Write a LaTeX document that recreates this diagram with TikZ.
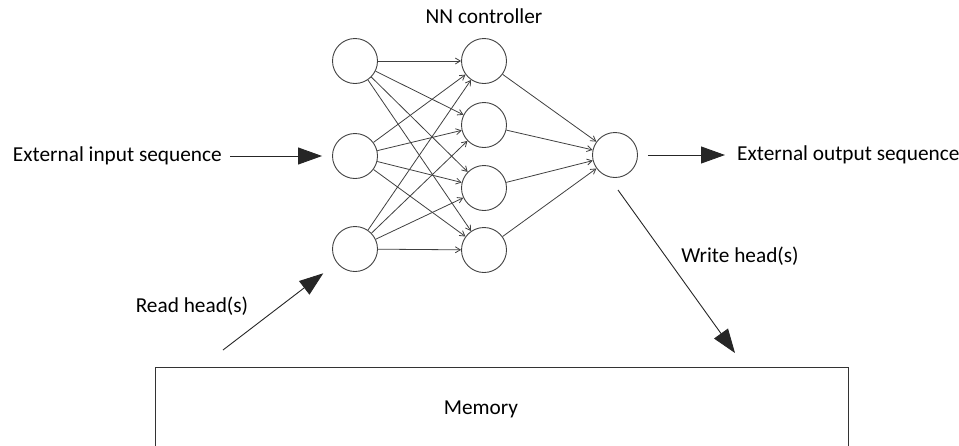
\documentclass[tikz,border=0pt]{standalone}
\usepackage{fontspec}
\setmainfont{Carlito}
\usepackage{tikz}
\usetikzlibrary{arrows.meta, positioning}

\begin{document}
\begin{tikzpicture}[x=1pt, y=-1pt,
    font=\fontsize{21.3}{25}\selectfont,
    neuron/.style={circle, draw=black!75, line width=0.9pt, minimum size=45pt, inner sep=0pt},
    link/.style={draw=black!75, line width=0.8pt, -{Straight Barb[length=5pt,width=6pt]}},
    bigarrow/.style={draw=black!85, line width=0.9pt, -{Triangle[length=24pt,width=17pt]}}]
\useasboundingbox (0,0) rectangle (959,445);
%
% input layer
\node[neuron] (i1) at (355,61) {};
\node[neuron] (i2) at (355,156) {};
\node[neuron] (i3) at (355,249) {};
% hidden layer
\node[neuron] (h1) at (484,61) {};
\node[neuron] (h2) at (484,125) {};
\node[neuron] (h3) at (484,188) {};
\node[neuron] (h4) at (484,250) {};
% output
\node[neuron] (o) at (615,155) {};

\foreach \i in {1,2,3}
  \foreach \h in {1,2,3,4}
    \draw[link] (i\i) -- (h\h);
\foreach \h in {1,2,3,4}
  \draw[link] (h\h) -- (o);
%
\node (ctrl) at (484,16) {NN controller};
\node[anchor=east, inner sep=0pt] (inseq) at (222,156) {External input sequence};
\node[anchor=west, inner sep=0pt] (outseq) at (737,155) {External output sequence};
\node (rlab) at (192,306) {Read head(s)};
\node (wlab) at (740,256) {Write head(s)};

\draw[bigarrow, shorten <=8pt, shorten >=10pt] (inseq) -- (i2);
\draw[bigarrow, shorten <=10pt, shorten >=12pt] (o) -- (outseq);

\coordinate (rstart) at (223,350);
\draw[bigarrow, shorten >=17pt] (rstart) -- (i3);
\coordinate (wstart) at (618,190);
\coordinate (wend) at (735,353);
\draw[bigarrow] (wstart) -- (wend);
%
% memory
\draw[black!80, line width=0.9pt] (155,460) |- (848,367) -- (848,460);
\node (mem) at (481,409) {Memory};
\end{tikzpicture}
\end{document}
